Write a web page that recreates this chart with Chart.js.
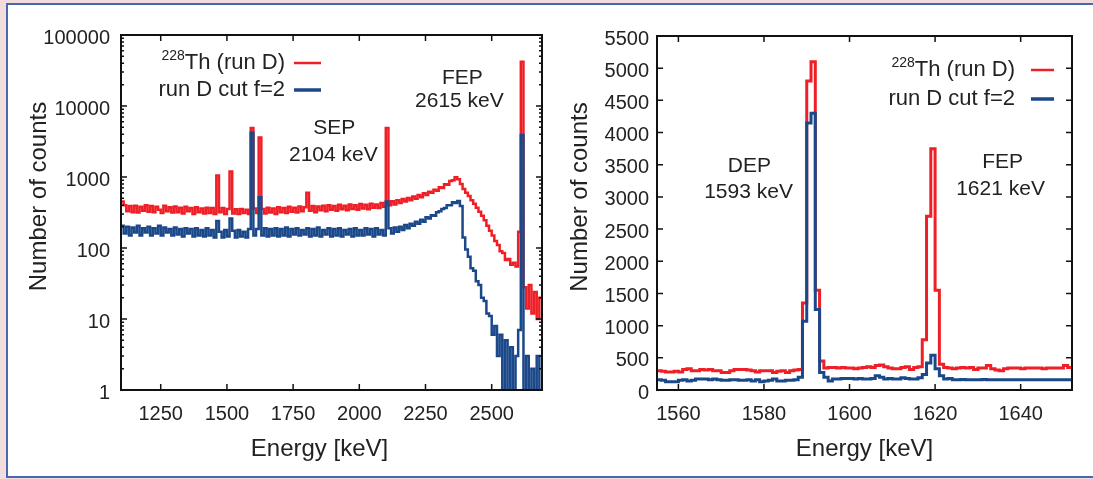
<!DOCTYPE html>
<html><head><meta charset="utf-8">
<script src="https://cdn.jsdelivr.net/npm/chart.js@4.4.1/dist/chart.umd.min.js"></script>
<style>
html,body{margin:0;padding:0;}
body{width:1093px;height:479px;background:#f2dcdd;position:relative;overflow:hidden;}
#frame{position:absolute;left:6px;top:3px;width:1087px;height:475px;box-sizing:border-box;background:#fff;border-top:2px solid #4a67ae;border-left:2px solid #4a67ae;border-bottom:2px solid #4a67ae;}
.wrap{position:absolute;top:0;height:479px;}
#w1{left:0;width:550px;} #w2{left:550px;width:543px;}
canvas{display:block}
</style></head>
<body><div id="frame"></div>
<div class="wrap" id="w1"><canvas id="c1" width="550" height="479"></canvas></div>
<div class="wrap" id="w2"><canvas id="c2" width="543" height="479"></canvas></div>
<script>
// ---------- data ----------
const seriesNames = ['228Th (run D)', 'run D cut f=2'];
const seriesSup = ['228', ''];

// left panel: log spectrum, 10 keV bins starting at 1100 keV
const leftBinStart = 1100, leftBinWidth = 10;
const leftRunD = [
  450,400,330,390,320,395,315,380,335,400,
  325,390,320,380,345,310,395,330,375,315,
  385,320,370,305,380,330,365,300,375,320,
  360,305,370,310,365,300,1050,320,365,300,
  355,1200,305,350,300,355,310,345,300,4900,
  360,310,3600,355,305,370,315,360,300,375,
  320,365,310,380,325,370,315,385,330,375,
  600,335,390,320,385,340,395,330,400,345,
  390,335,405,350,395,340,410,355,400,345,
  415,360,405,350,420,370,410,365,430,380,
  4900,400,455,410,470,430,490,450,505,470,
  530,495,560,520,590,560,620,600,660,640,
  720,700,790,780,880,900,990,930,800,680,
  600,540,470,420,370,325,285,245,205,175,
  150,125,110,90,85,68,70,58,62,55,
  170,42000,28,14,30,12,24,10,20
];
const leftCutF2 = [
  205,160,200,150,195,165,205,150,190,165,
  200,150,190,160,205,150,195,165,185,150,
  195,155,185,145,190,160,185,145,190,150,
  180,145,190,150,180,140,240,170,140,180,
  145,260,175,140,180,145,170,140,185,4200,
  150,185,520,150,190,145,185,150,190,145,
  185,150,195,145,185,155,190,150,180,155,
  190,145,185,150,195,145,180,155,190,145,
  185,150,190,145,180,155,185,145,190,150,
  180,150,190,155,185,145,190,155,180,150,
  450,190,160,195,170,200,180,210,190,220,
  205,235,220,250,235,270,260,290,285,320,
  330,355,365,400,400,440,430,460,390,140,
  95,75,52,48,34,30,20,18,12,11,
  6,8,3,6,1,5,1,4,1,3,
  7,3900,1,3,1,2,1,3,1
];
// right panel: linear zoom, 1 keV bins starting at 1555 keV
const rightBinStart = 1555, rightBinWidth = 1;
const rightRunD = [
  300,290,280,280,290,280,320,330,300,300,
  320,310,320,300,300,270,270,300,320,320,
  320,310,300,280,300,300,300,270,290,300,
  270,300,310,320,1350,4800,5100,1550,450,340,
  350,350,340,350,340,340,330,340,350,360,
  350,380,390,360,340,330,330,350,360,320,
  350,360,780,2700,3750,1550,400,350,340,330,
  340,350,340,350,320,340,340,380,330,310,
  300,330,340,340,340,330,340,340,340,340,
  330,340,340,340,340,380,350
];
const rightCutF2 = [
  160,150,130,130,130,150,160,140,150,170,
  170,170,160,170,160,150,150,160,160,150,
  150,160,140,160,130,140,150,170,140,140,
  150,150,160,200,1070,4150,4300,1250,270,200,
  140,170,170,180,180,180,170,180,170,170,
  180,220,200,170,180,170,170,190,180,170,
  170,190,240,420,540,330,220,170,180,160,
  160,165,160,160,160,160,165,160,160,160,
  160,160,160,160,160,160,160,160,160,160,
  160,160,160,160,160,160,160
];
const leftXTicks = [1250,1500,1750,2000,2250,2500];
const leftYTicks = [1,10,100,1000,10000,100000];
const rightXTicks = [1560,1580,1600,1620,1640];
const rightYTicks = [0,500,1000,1500,2000,2500,3000,3500,4000,4500,5000,5500];
const xTitle = 'Energy [keV]';
const yTitle = 'Number of counts';
const leftNotes = ['SEP','2104 keV','FEP','2615 keV'];
const rightNotes = ['DEP','1593 keV','FEP','1621 keV'];

// ---------- helpers ----------
const FAM = "'Liberation Sans', Arial, Helvetica, sans-serif";
const RED = '#ee1f26', BLUE = '#1b4889', INK = '#222';
Chart.defaults.font.family = FAM;
Chart.defaults.color = INK;

function steps(start, width, vals) {
  const pts = vals.map((v, i) => ({x: start + i * width, y: v}));
  pts.push({x: start + vals.length * width, y: vals[vals.length - 1]});
  return pts;
}
const leftMinorY = [];
for (let d = 1; d < 100000; d *= 10) for (let k = 2; k <= 9; k++) leftMinorY.push(d * k);

// shift where Chart.js centres an axis title (gnuplot places them off-centre)
function shiftTitle(s, dx, dy) {
  if (s._titleShifted) return;
  const orig = s.drawTitle;
  s.drawTitle = function (...args) {
    const keep = {top: this.top, bottom: this.bottom, left: this.left, right: this.right};
    this.left += dx; this.right += dx; this.top += dy; this.bottom += dy;
    orig.apply(this, args);
    Object.assign(this, keep);
  };
  s._titleShifted = true;
}

const frameTicks = {
  id: 'frameTicks',
  afterDatasetsDraw(chart, args, o) {
    const {ctx, chartArea: a, scales: {x, y}} = chart;
    ctx.save();
    ctx.strokeStyle = '#111';
    ctx.lineWidth = 1.5;
    ctx.beginPath();
    x.ticks.forEach(t => {
      const p = x.getPixelForValue(t.value);
      ctx.moveTo(p, a.bottom); ctx.lineTo(p, a.bottom - o.major);
      ctx.moveTo(p, a.top); ctx.lineTo(p, a.top + o.major);
    });
    y.ticks.forEach(t => {
      const p = y.getPixelForValue(t.value);
      ctx.moveTo(a.left, p); ctx.lineTo(a.left + o.major, p);
      ctx.moveTo(a.right, p); ctx.lineTo(a.right - o.major, p);
    });
    (o.minorY || []).forEach(v => {
      const p = y.getPixelForValue(v);
      ctx.moveTo(a.left, p); ctx.lineTo(a.left + o.minor, p);
      ctx.moveTo(a.right, p); ctx.lineTo(a.right - o.minor, p);
    });
    ctx.stroke();
    ctx.lineWidth = 2;
    ctx.strokeRect(a.left, a.top, a.right - a.left, a.bottom - a.top);
    ctx.restore();
  }
};

const sideLegend = {
  id: 'sideLegend',
  afterDatasetsDraw(chart, args, o) {
    const {ctx, chartArea: a} = chart;
    const rx = (o.from === 'left' ? a.left : a.right) + o.dx;
    ctx.save();
    ctx.textAlign = 'right';
    ctx.textBaseline = 'middle';
    ctx.fillStyle = INK;
    chart.data.datasets.forEach((ds, i) => {
      const yy = a.top + o.dy + i * o.gap;
      const sup = ds.supPrefix || '';
      const body = sup ? ds.label.slice(sup.length) : ds.label;
      ctx.font = o.size + 'px ' + FAM;
      ctx.fillText(body, rx, yy);
      if (sup) {
        const w = ctx.measureText(body).width;
        ctx.font = o.supSize + 'px ' + FAM;
        ctx.fillText(sup, rx - w, yy - o.supRise);
      }
      ctx.strokeStyle = ds.borderColor;
      ctx.lineWidth = ds.legendWidth;
      ctx.beginPath();
      ctx.moveTo(rx + o.lineGap, yy);
      ctx.lineTo(rx + o.lineGap + o.lineLen, yy);
      ctx.stroke();
    });
    ctx.restore();
  }
};

const textNotes = {
  id: 'textNotes',
  afterDatasetsDraw(chart, args, o) {
    const {ctx, scales: {x, y}} = chart;
    ctx.save();
    ctx.font = o.size + 'px ' + FAM;
    ctx.fillStyle = INK;
    ctx.textAlign = 'center';
    ctx.textBaseline = 'middle';
    o.items.forEach(it => ctx.fillText(it.text, x.getPixelForValue(it.x), y.getPixelForValue(it.y)));
    ctx.restore();
  }
};

function datasets(r, b, start, width, lw) {
  return [
    {label: seriesNames[0], supPrefix: seriesSup[0], data: steps(start, width, r), borderColor: RED,
     borderWidth: lw, legendWidth: 2.5, stepped: 'before', pointRadius: 0, fill: false, order: 2},
    {label: seriesNames[1], supPrefix: seriesSup[1], data: steps(start, width, b), borderColor: BLUE,
     borderWidth: lw, legendWidth: 3.5, stepped: 'before', pointRadius: 0, fill: false, order: 1}
  ];
}

function makeChart(id, cfg) {
  return new Chart(document.getElementById(id), {
    type: 'line',
    data: {datasets: cfg.datasets},
    plugins: [frameTicks, sideLegend, textNotes],
    options: {
      responsive: false, animation: false, devicePixelRatio: 1,
      layout: {padding: cfg.padding},
      plugins: {
        legend: {display: false}, tooltip: {enabled: false},
        frameTicks: cfg.frameTicks, sideLegend: cfg.legend, textNotes: cfg.notes
      },
      scales: {
        x: {
          type: 'linear', min: cfg.xmin, max: cfg.xmax,
          grid: {display: false, drawTicks: false}, border: {display: false},
          afterBuildTicks: s => { s.ticks = cfg.xTicks.map(v => ({value: v})); },
          afterFit: s => { s.height = cfg.xHeight; },
          afterUpdate: s => shiftTitle(s, cfg.xTitleDx, 0),
          ticks: {autoSkip: false, maxRotation: 0, padding: 12, font: {size: 20}, color: INK, callback: v => String(v)},
          title: {display: true, text: xTitle, font: {size: 24}, color: INK, padding: {top: 0, bottom: 15}}
        },
        y: {
          type: cfg.ytype, min: cfg.ymin, max: cfg.ymax,
          grid: {display: false, drawTicks: false}, border: {display: false},
          afterBuildTicks: s => { s.ticks = cfg.yTicks.map(v => ({value: v})); },
          afterFit: s => { s.width = cfg.yWidth; },
          afterUpdate: s => shiftTitle(s, 0, cfg.yTitleDy),
          ticks: {autoSkip: false, padding: cfg.yPad, labelOffset: 3, font: {size: 20}, color: INK, callback: v => String(v)},
          title: {display: true, text: yTitle, font: {size: 24}, color: INK, padding: {top: cfg.yTitlePad, bottom: 0}}
        }
      }
    }
  });
}

makeChart('c1', {
  datasets: datasets(leftRunD, leftCutF2, leftBinStart, leftBinWidth, 2.5),
  padding: {left: 0, top: 35, right: 8, bottom: 0},
  xmin: 1100, xmax: 2690, ytype: 'logarithmic', ymin: 1, ymax: 100000,
  xTicks: leftXTicks, yTicks: leftYTicks, xHeight: 89, yWidth: 121, yPad: 11, yTitlePad: 25,
  xTitleDx: -12, yTitleDy: -16,
  frameTicks: {major: 6, minor: 3, minorY: leftMinorY},
  legend: {from: 'left', dx: 164, dy: 28, gap: 27, size: 22, supSize: 14, supRise: 7, lineGap: 9, lineLen: 27},
  notes: {size: 21, items: [
    {text: leftNotes[0], x: 1905, y: 4900},
    {text: leftNotes[1], x: 1902, y: 2050},
    {text: leftNotes[2], x: 2389, y: 24500},
    {text: leftNotes[3], x: 2378, y: 11600}
  ]}
});

makeChart('c2', {
  datasets: datasets(rightRunD, rightCutF2, rightBinStart, rightBinWidth, 3),
  padding: {left: 0, top: 36, right: 21, bottom: 0},
  xmin: 1555, xmax: 1652, ytype: 'linear', ymin: 0, ymax: 5500,
  xTicks: rightXTicks, yTicks: rightYTicks, xHeight: 89, yWidth: 107, yPad: 8, yTitlePad: 16,
  xTitleDx: 0, yTitleDy: -16,
  frameTicks: {major: 6, minor: 3, minorY: []},
  legend: {from: 'right', dx: -57, dy: 34, gap: 29, size: 22, supSize: 14, supRise: 7, lineGap: 16, lineLen: 23},
  notes: {size: 21, items: [
    {text: rightNotes[0], x: 1576.6, y: 3480},
    {text: rightNotes[1], x: 1576.4, y: 3076},
    {text: rightNotes[2], x: 1635.8, y: 3542},
    {text: rightNotes[3], x: 1635.3, y: 3123}
  ]}
});
</script>
</body></html>
